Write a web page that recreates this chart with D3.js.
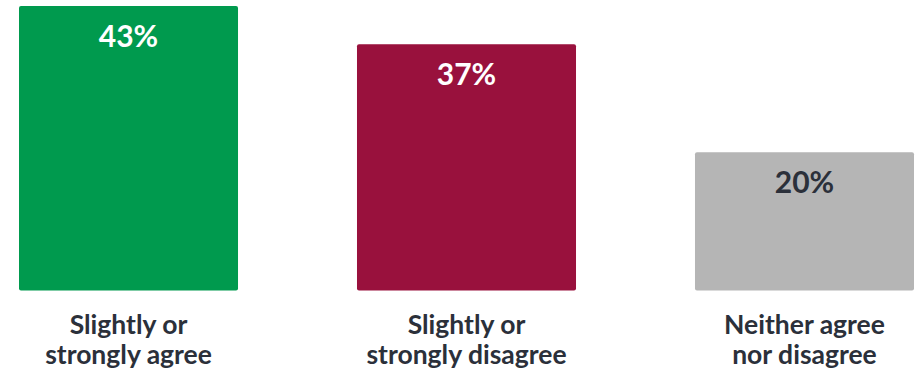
<!DOCTYPE html>
<html>
<head>
<meta charset="utf-8">
<script src="https://cdn.jsdelivr.net/npm/d3@7/dist/d3.min.js"></script>
<style>
  html, body { margin: 0; padding: 0; background: #ffffff; }
  svg { display: block; }
</style>
</head>
<body>
<svg id="chart" width="915" height="372"></svg>
<script>
// Survey response shares
const categories = [
  ["Slightly or", "strongly agree"],
  ["Slightly or", "strongly disagree"],
  ["Neither agree", "nor disagree"]
];
const values = [43, 37, 20];
const valueLabels = ["43%", "37%", "20%"];
const barColors = ["#009a4e", "#99113d", "#b5b5b5"];
const labelColors = ["#ffffff", "#ffffff", "#2b303a"];

const svg = d3.select("#chart");
const ids = d3.range(values.length);

const x = d3.scaleBand()
  .domain(ids)
  .range([19, 914])
  .paddingInner(0.352)
  .paddingOuter(0);

const y = d3.scaleLinear()
  .domain([-1.73, 43])
  .range([290.5, 6]);

const bars = svg.append("g").selectAll("g")
  .data(ids)
  .join("g");

bars.append("rect")
  .attr("x", i => x(i))
  .attr("y", i => y(values[i]))
  .attr("width", x.bandwidth())
  .attr("height", i => y.range()[0] - y(values[i]))
  .attr("rx", 2)
  .attr("fill", i => barColors[i]);

bars.append("text")
  .attr("x", i => x(i) + x.bandwidth() / 2)
  .attr("y", i => y(values[i]) + 41)
  .attr("text-anchor", "middle")
  .attr("font-family", "Lato, 'Open Sans', sans-serif")
  .attr("font-weight", 700)
  .attr("font-size", 30)
  .attr("fill", i => labelColors[i])
  .text(i => valueLabels[i]);

// Category labels under the baseline, two lines each
const cat = svg.append("g").selectAll("text")
  .data(ids)
  .join("text")
  .attr("x", i => x(i) + x.bandwidth() / 2)
  .attr("y", 334)
  .attr("text-anchor", "middle")
  .attr("font-family", "Lato, 'Open Sans', sans-serif")
  .attr("font-weight", 700)
  .attr("font-size", 26.5)
  .attr("fill", "#2b303a");

cat.selectAll("tspan")
  .data(i => categories[i].map(t => ({ t, cx: x(i) + x.bandwidth() / 2 })))
  .join("tspan")
  .attr("x", d => d.cx)
  .attr("dy", (d, j) => j === 0 ? 0 : 30)
  .text(d => d.t);
</script>
</body>
</html>
